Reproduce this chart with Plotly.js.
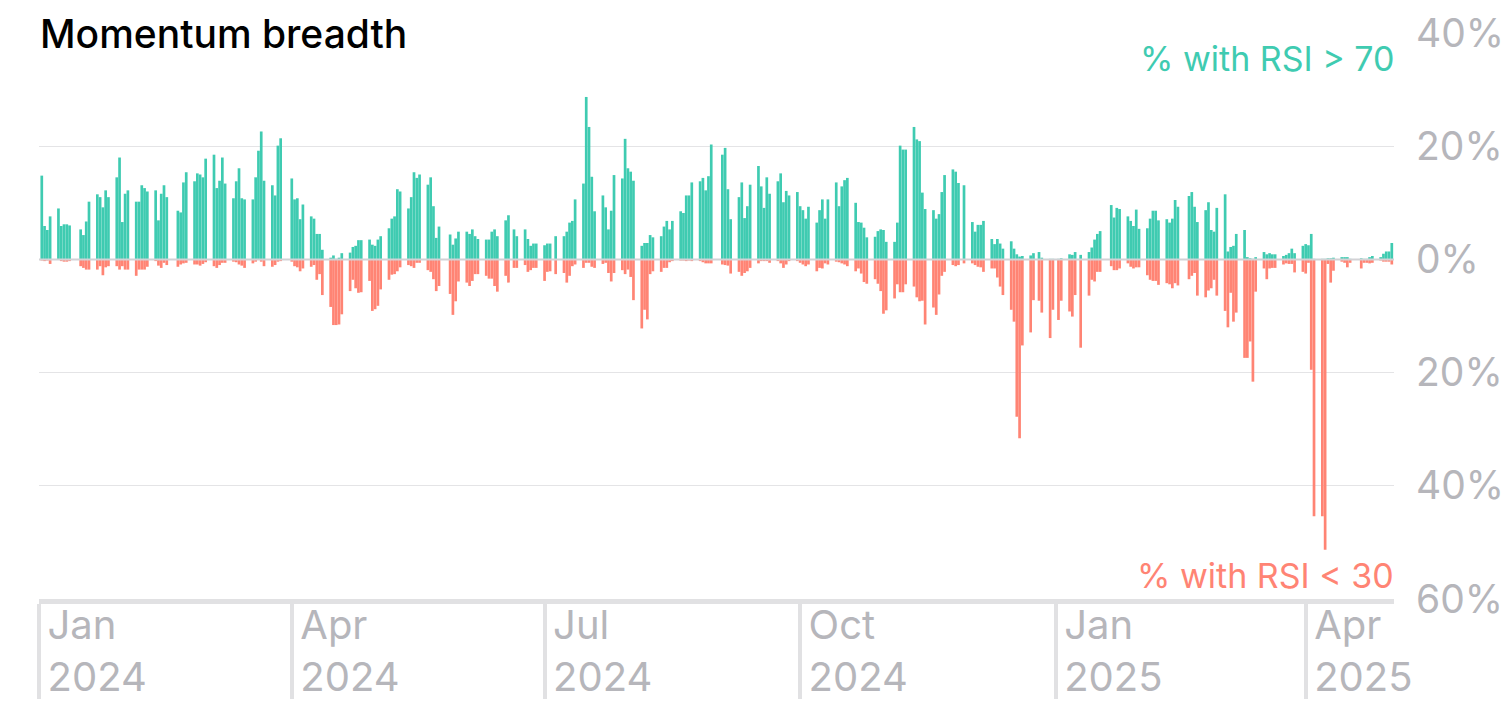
<!DOCTYPE html>
<html>
<head>
<meta charset="utf-8">
<script src="https://cdn.plot.ly/plotly-3.0.1.min.js"></script>
<style>
  html, body { margin: 0; padding: 0; background: #ffffff; }
  #chart { width: 1511px; height: 701px; }
</style>
</head>
<body>
<div id="chart"></div>
<script>
// Monday of each trading week; each week holds Mon..Fri values (null = market closed)
const weekStarts = [
  '2024-01-01','2024-01-08','2024-01-15','2024-01-22','2024-01-29','2024-02-05','2024-02-12','2024-02-19','2024-02-26',
  '2024-03-04','2024-03-11','2024-03-18','2024-03-25','2024-04-01','2024-04-08','2024-04-15','2024-04-22','2024-04-29',
  '2024-05-06','2024-05-13','2024-05-20','2024-05-27','2024-06-03','2024-06-10','2024-06-17','2024-06-24','2024-07-01',
  '2024-07-08','2024-07-15','2024-07-22','2024-07-29','2024-08-05','2024-08-12','2024-08-19','2024-08-26','2024-09-02',
  '2024-09-09','2024-09-16','2024-09-23','2024-09-30','2024-10-07','2024-10-14','2024-10-21','2024-10-28','2024-11-04',
  '2024-11-11','2024-11-18','2024-11-25','2024-12-02','2024-12-09','2024-12-16','2024-12-23','2024-12-30',
  '2025-01-06','2025-01-13','2025-01-20','2025-01-27','2025-02-03','2025-02-10','2025-02-17','2025-02-24','2025-03-03',
  '2025-03-10','2025-03-17','2025-03-24','2025-03-31','2025-04-07','2025-04-14','2025-04-21','2025-04-28'
];

// % of stocks with RSI > 70
const pctAbove70 = [
  [null,14.8,5.9,5.2,7.6],[9.0,5.9,6.2,6.2,6.0],[null,5.3,4.3,6.7,10.2],[11.5,11.0,9.2,12.2,11.0],[14.5,18.0,6.6,11.6,12.2],
  [10.2,10.2,13.1,12.6,12.0],[12.2,6.9,11.6,13.1,11.0],[null,8.6,8.3,13.6,15.4],[13.8,15.2,15.0,14.5,17.8],
  [18.5,12.6,13.9,18.0,13.4],[10.8,13.8,16.1,10.8,10.6],[10.6,14.5,19.2,22.6,13.9],[13.1,11.3,20.1,21.4,null],
  [14.3,10.6,10.8,7.1,9.7],[7.6,7.2,4.5,4.5,1.7],[0.3,0.7,0.1,0.3,1.1],[1.2,2.2,2.4,3.4,3.4],[3.5,2.6,2.4,3.5,4.1],
  [5.5,7.2,7.6,12.4,12.0],[9.0,11.0,15.4,14.4,15.0],[13.2,14.5,9.4,3.8,5.8],[null,4.4,2.6,3.7,4.9],[4.9,4.5,5.3,4.1,3.6],
  [3.5,3.5,4.9,5.3,4.1],[6.9,7.8,null,5.3,4.1],[5.3,3.6,2.4,2.8,2.8],[2.5,2.8,2.8,null,4.1],
  [4.1,4.9,6.5,6.8,10.6],[13.4,28.7,23.4,14.6,8.5],[11.3,9.2,5.3,8.6,14.9],[14.3,21.3,16.1,15.5,13.9],[2.4,2.9,2.9,4.3,3.9],
  [4.1,5.8,6.8,5.3,6.8],[8.5,8.2,11.3,11.3,13.6],[13.8,14.4,12.2,14.7,20.3],[null,18.5,19.7,12.4,7.1],
  [11.0,13.6,7.3,9.4,13.2],[16.5,12.9,9.1,14.5,11.6],[13.8,15.2,10.1,12.1,11.3],[11.9,9.4,8.7,7.2,9.3],[6.5,8.7,10.6,7.2,10.6],
  [13.6,9.4,12.9,14.0,14.4],[10.0,6.6,6.5,5.6,3.9],[4.0,5.0,5.3,5.2,3.1],[3.1,6.5,20.1,19.4,19.4],
  [23.4,21.2,20.9,11.8,8.9],[8.7,7.2,8.0,11.9,14.9],[15.9,15.5,13.5,null,13.1],[6.6,4.9,6.1,6.1,6.8],[3.6,2.7,3.6,2.8,1.9],
  [3.2,1.9,0.9,0.5,0.6],[0.7,1.1,null,1.3,0.3],[0.1,0.1,null,0.1,0.2],
  [0.9,0.8,1.3,null,0.8],[1.3,2.1,3.5,4.5,5.0],[null,9.6,7.4,9.1,8.9],[7.6,6.8,5.9,8.8,5.4],[5.5,7.2,8.6,8.6,6.9],
  [7.1,6.5,7.2,10.5,9.3],[null,11.2,11.9,9.3,6.6],[8.7,10.1,5.2,4.9,9.1],[11.5,1.4,2.2,2.4,4.5],
  [5.2,0.4,0.2,0.1,0.4],[1.3,0.9,1.1,0.9,0.9],[0.6,0.8,1.1,1.9,1.1],[2.4,2.7,2.5,4.5,0.1],[0.1,0.1,0.2,0.2,0.3],
  [0.4,0.4,0.4,0.1,null],[0.2,0.1,0.1,0.4,0.6],[0.4,1.0,1.4,1.4,2.9]
];

// % of stocks with RSI < 30
const pctBelow30 = [
  [null,0.2,0.3,0.2,0.8],[0.1,0.3,0.4,0.4,0.3],[null,1.2,1.5,1.8,1.8],[1.8,1.2,2.8,1.4,1.2],[1.2,1.8,1.2,1.8,1.8],
  [2.9,1.8,1.8,1.8,1.3],[0.3,1.1,1.5,0.6,1.0],[null,1.3,0.9,0.7,0.6],[0.9,0.9,1.1,0.8,0.5],
  [1.2,1.5,1.0,0.6,0.6],[0.4,0.5,0.9,1.1,1.5],[0.7,0.4,0.1,0.4,1.2],[1.3,1.0,0.4,0.3,null],
  [0.4,1.2,1.4,2.1,1.6],[1.3,1.0,3.6,2.6,6.3],[8.4,11.6,11.6,11.5,9.7],[5.6,3.6,5.1,5.9,5.8],[3.8,9.1,8.8,8.2,5.3],
  [3.6,2.7,2.6,2.1,1.4],[1.0,1.2,1.5,0.6,0.6],[1.9,2.2,3.5,5.6,4.7],[null,6.1,9.8,7.4,3.9],[4.1,4.7,3.8,2.6,2.6],
  [2.9,3.4,3.4,4.7,5.7],[2.9,4.1,null,1.5,1.5],[1.0,2.2,1.9,1.5,1.5],[3.8,2.2,2.1,null,2.6],
  [2.4,4.1,2.9,1.2,0.9],[1.5,0.6,0.6,1.3,1.5],[0.8,0.6,2.4,3.9,2.4],[1.9,2.6,1.8,3.1,7.2],[12.2,8.9,10.6,2.6,2.1],
  [2.2,1.5,1.5,0.5,0.3],[0.2,0.2,0.3,0.2,0.3],[0.3,0.5,0.7,0.7,0.7],[null,0.9,1.0,1.1,2.5],
  [2.2,2.9,2.4,2.1,1.5],[0.7,0.3,0.3,0.3,0.6],[0.3,0.7,1.5,0.9,0.3],[0.3,0.6,0.9,1.2,0.9],[2.1,1.5,1.6,0.7,0.9],
  [0.4,0.5,0.7,0.9,1.2],[2.1,1.6,2.5,4.0,4.3],[3.5,4.3,5.6,9.6,9.0],[6.9,4.4,5.8,5.8,4.4],
  [4.8,6.7,7.4,7.3,11.5],[8.5,9.8,6.2,2.9,2.2],[1.0,1.2,1.0,null,0.7],[0.7,1.0,1.3,1.4,2.2],[1.6,1.6,3.2,4.8,6.3],
  [8.9,11.0,27.8,31.6,15.2],[12.9,7.2,null,7.3,9.4],[13.9,8.9,null,10.7,7.3],
  [9.2,10.1,6.3,null,15.6],[6.4,3.6,3.9,2.2,2.2],[null,1.2,1.9,1.9,1.6],[0.7,1.3,1.6,1.4,1.4],[2.8,3.6,3.8,3.8,4.5],
  [4.2,4.4,5.1,4.2,4.6],[null,3.5,2.9,2.4,6.4],[6.7,5.5,5.1,3.6,6.4],[9.1,12.0,5.9,11.0,9.4],
  [17.4,17.4,14.5,21.6,5.7],[1.6,3.5,1.6,1.5,1.5],[0.9,0.7,0.8,0.8,2.3],[2.2,2.5,0.6,19.5,45.4],[45.4,51.3,0.8,4.1,2.0],
  [0.4,0.6,1.4,0.6,null],[1.6,0.6,0.6,0.7,0.6],[0.2,0.4,0.4,0.4,0.9]
];

const tickDates = ['2024-01-01','2024-04-01','2024-07-01','2024-10-01','2025-01-01','2025-04-01'];
const tickLabels = ['Jan<br>2024','Apr<br>2024','Jul<br>2024','Oct<br>2024','Jan<br>2025','Apr<br>2025'];
const yTickVals = [40, 20, 0, -20, -40, -60];
const yTickText = ['40%', '20%', '0%', '20%', '40%', '60%'];

const GREEN = '#3fcbb1';
const RED = '#ff8474';
const GREY = '#b6b6bb';
const FONT = 'Inter, "Liberation Sans", sans-serif';

// flatten weeks into trading days
const dates = [], up = [], down = [];
weekStarts.forEach((ws, w) => {
  const [yy, mm, dd] = ws.split('-').map(Number);
  for (let i = 0; i < 5; i++) {
    const g = pctAbove70[w][i], r = pctBelow30[w][i];
    if (g === null || r === null) continue;
    const d = new Date(Date.UTC(yy, mm - 1, dd + i));
    dates.push(d.toISOString().slice(0, 10));
    up.push(g);
    down.push(-r);
  }
});

const DAY = 86400000;
const traces = [
  { type: 'bar', x: dates, y: up, width: DAY * 0.97, marker: { color: GREEN, line: { width: 0 } },
    name: '% with RSI > 70', hoverinfo: 'x+y' },
  { type: 'bar', x: dates, y: down, width: DAY * 0.97, marker: { color: RED, line: { width: 0 } },
    name: '% with RSI < 30', hoverinfo: 'x+y' }
];

const layout = {
  width: 1511, height: 701,
  margin: { l: 39, r: 117, t: 33, b: 102 },
  paper_bgcolor: '#ffffff', plot_bgcolor: '#ffffff',
  showlegend: false,
  barmode: 'overlay',
  font: { family: FONT, color: GREY },
  xaxis: {
    type: 'date',
    range: ['2024-01-01', '2025-05-02 19:00'],
    tickvals: tickDates, ticktext: tickLabels,
    showgrid: false, zeroline: false,
    showline: true, linecolor: '#e1e1e3', linewidth: 5,
    ticks: 'outside', ticklen: 95, tickwidth: 4, tickcolor: '#e1e1e3',
    ticklabelposition: 'outside right',
    ticklabelstandoff: -13,
    ticklabelshift: 4,
    tickfont: { family: FONT, size: 40, color: GREY },
    fixedrange: true
  },
  yaxis: {
    side: 'right',
    range: [-60, 40],
    tickvals: yTickVals, ticktext: yTickText,
    showgrid: true, gridcolor: '#e4e4e6', gridwidth: 1,
    zeroline: false, showline: false, ticks: '',
    ticklabelstandoff: 21,
    tickfont: { family: FONT, size: 39, color: GREY },
    fixedrange: true
  },
  shapes: [
    { type: 'line', xref: 'paper', yref: 'y', x0: 0, x1: 1, y0: 0, y1: 0,
      line: { color: '#d2d2d5', width: 2 }, layer: 'above' }
  ],
  annotations: [
    { text: 'Momentum breadth', xref: 'paper', yref: 'paper', x: 0, y: 1,
      xanchor: 'left', yanchor: 'middle', xshift: -22, yshift: 0, showarrow: false,
      bgcolor: '#ffffff', borderpad: 22,
      font: { family: FONT, size: 39, weight: 500, color: '#000000' } },
    { text: '% with RSI > 70', xref: 'paper', yref: 'paper', x: 1, y: 0.955,
      xanchor: 'right', yanchor: 'middle', xshift: 2, showarrow: false,
      font: { family: FONT, size: 34, color: GREEN } },
    { text: '% with RSI < 30', xref: 'paper', yref: 'paper', x: 1, y: 0.042,
      xanchor: 'right', yanchor: 'middle', xshift: 2, showarrow: false,
      font: { family: FONT, size: 34, color: RED } }
  ]
};

Plotly.newPlot('chart', traces, layout, { displayModeBar: false, staticPlot: true });
</script>
</body>
</html>
